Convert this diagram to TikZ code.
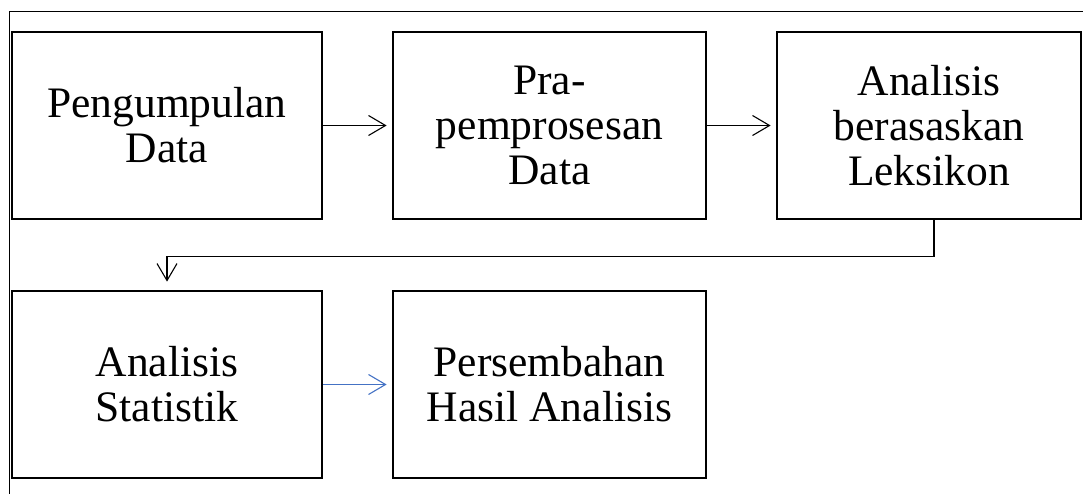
\documentclass[tikz,border=0pt]{standalone}
\usepackage{fontspec}
\setmainfont{Liberation Serif}
\usetikzlibrary{arrows.meta}
\definecolor{arrowblue}{RGB}{68,114,196}
\begin{document}
\begin{tikzpicture}[x=1pt,y=-1pt,
  procbox/.style={draw=black,line width=2.8pt,minimum height=187pt,align=center,
    font=\fontsize{43.5}{45}\selectfont,inner sep=0pt},
  conn/.style={line width=1.1pt,-{Straight Barb[length=17pt,width=20pt,line width=1.1pt]},shorten >=5pt}]
\useasboundingbox (0,0) rectangle (1083,494);
\draw[line width=1pt] (9,494) -- (9,12) -- (1083,12);
\node[procbox,minimum width=310pt] (b1) at (167,125.5) {Pengumpulan\\Data};
\node[procbox,minimum width=313pt] (b2) at (549.5,125.5) {Pra-\\pemprosesan\\Data};
\node[procbox,minimum width=304pt] (b3) at (929,125.5) {Analisis\\berasaskan\\Leksikon};
\node[procbox,minimum width=310pt] (b4) at (167,384.5) {Analisis\\Statistik};
\node[procbox,minimum width=313pt] (b5) at (549.5,384.5) {Persembahan\\Hasil Analisis};
\draw[conn] (b1.east) -- (b2.west);
\draw[conn] (b2.east) -- (b3.west);
\draw[conn,shorten >=8pt] ([xshift=5pt]b3.south) -- ++(0,36) -| (b4.north);
\draw[conn,draw=arrowblue] (b4.east) -- (b5.west);
\end{tikzpicture}
\end{document}
